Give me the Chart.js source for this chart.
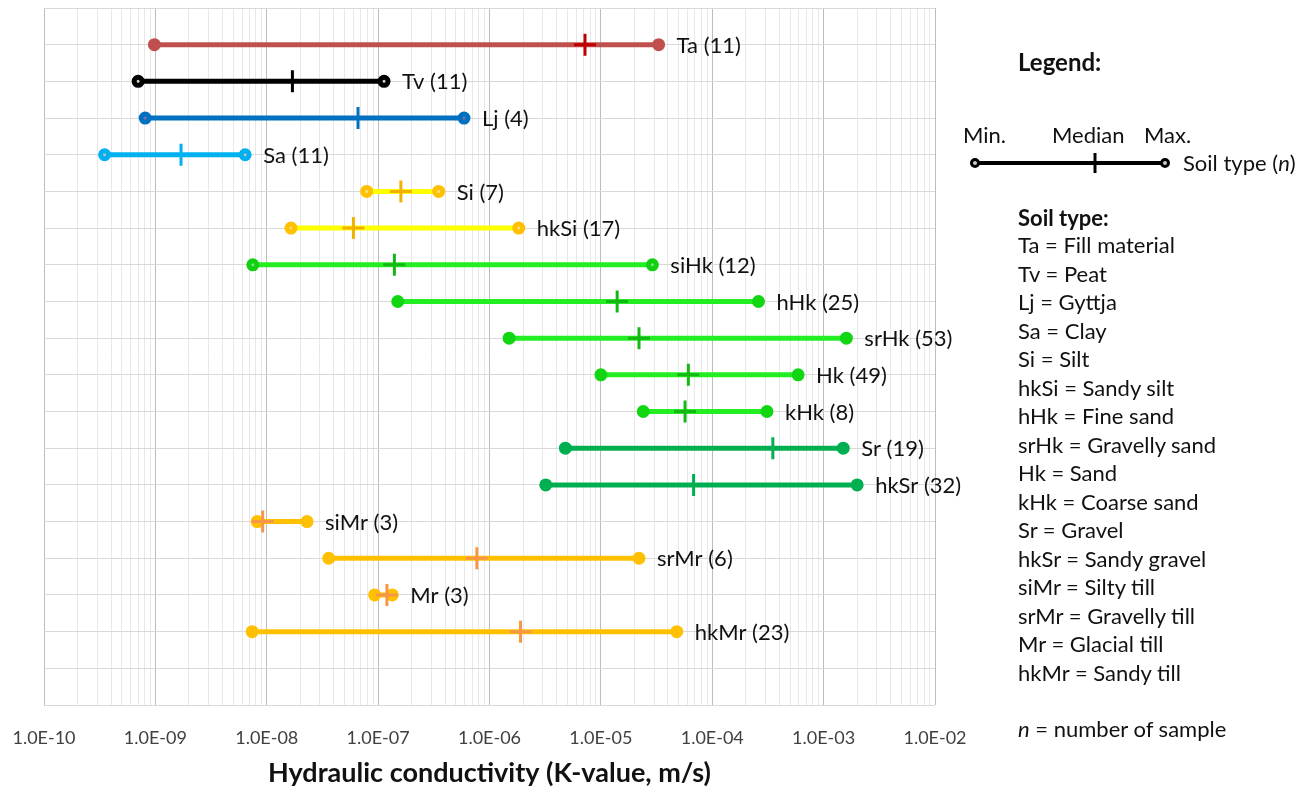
<!DOCTYPE html>
<html>
<head>
<meta charset="utf-8">
<script src="https://cdn.jsdelivr.net/npm/chart.js@4.4.0/dist/chart.umd.min.js"></script>
<style>
body { margin: 0; background: #fff; font-family: Lato, "Noto Sans", sans-serif; }
#wrap { position: relative; width: 1314px; height: 794px; }
.txt { position: absolute; transform: translateY(-50%); font-size: 22px; color: #111; white-space: nowrap; line-height: 1.2; }
.b { font-weight: bold; }
</style>
</head>
<body>
<div id="wrap">
  <canvas id="kChart" width="1314" height="794"></canvas>
  <div class="txt b" style="left:1018px; top:62px; font-size:24px;">Legend:</div>
  <div class="txt" style="left:963px; top:135px;">Min.</div>
  <div class="txt" style="left:1052px; top:135px;">Median</div>
  <div class="txt" style="left:1144px; top:135px;">Max.</div>
  <svg style="position:absolute; left:960px; top:145px;" width="220" height="36">
    <line x1="15" y1="18" x2="205" y2="18" stroke="#000" stroke-width="4"/>
    <line x1="135" y1="8" x2="135" y2="28" stroke="#000" stroke-width="3"/>
    <circle cx="15" cy="18" r="3.5" fill="#ccc" stroke="#000" stroke-width="3"/>
    <circle cx="205" cy="18" r="3.5" fill="#ccc" stroke="#000" stroke-width="3"/>
  </svg>
  <div class="txt" style="left:1183px; top:163px;">Soil type (<i>n</i>)</div>
  <div class="txt b" style="left:1018px; top:218px;">Soil type:</div>
  <div id="soilList"></div>
  <div class="txt" style="left:1018px; top:729px;"><i>n</i> = number of sample</div>
</div>
<script>
// soil types, sample counts and K-values (m/s)
const soilTypes = ['Ta', 'Tv', 'Lj', 'Sa', 'Si', 'hkSi', 'siHk', 'hHk', 'srHk', 'Hk', 'kHk', 'Sr', 'hkSr', 'siMr', 'srMr', 'Mr', 'hkMr'];
const sampleCounts = [11, 11, 4, 11, 7, 17, 12, 25, 53, 49, 8, 19, 32, 3, 6, 3, 23];
const minK = [9.8e-10, 7.0e-10, 8.1e-10, 3.5e-10, 7.9e-8, 1.65e-8, 7.5e-9, 1.5e-7, 1.5e-6, 1.0e-5, 2.4e-5, 4.8e-6, 3.2e-6, 8.2e-9, 3.6e-8, 9.3e-8, 7.4e-9];
const medianK = [7.2e-6, 1.7e-8, 6.6e-8, 1.7e-9, 1.6e-7, 6.0e-8, 1.4e-7, 1.4e-5, 2.2e-5, 6.1e-5, 5.7e-5, 3.5e-4, 6.8e-5, 9.2e-9, 7.7e-7, 1.2e-7, 1.9e-6];
const maxK = [3.3e-5, 1.13e-7, 5.9e-7, 6.4e-9, 3.5e-7, 1.83e-6, 2.9e-5, 2.6e-4, 1.6e-3, 5.9e-4, 3.1e-4, 1.5e-3, 2.0e-3, 2.3e-8, 2.2e-5, 1.34e-7, 4.8e-5];

const tickExponents = [-10, -9, -8, -7, -6, -5, -4, -3, -2];
const tickLabels = ['1.0E-10', '1.0E-09', '1.0E-08', '1.0E-07', '1.0E-06', '1.0E-05', '1.0E-04', '1.0E-03', '1.0E-02'];

const soilNames = ['Ta = Fill material', 'Tv = Peat', 'Lj = Gyttja', 'Sa = Clay', 'Si = Silt', 'hkSi = Sandy silt',
  'hHk = Fine sand', 'srHk = Gravelly sand', 'Hk = Sand', 'kHk = Coarse sand', 'Sr = Gravel', 'hkSr = Sandy gravel',
  'siMr = Silty till', 'srMr = Gravelly till', 'Mr = Glacial till', 'hkMr = Sandy till'];

// styles
const lineColors = ['#C0504D', '#000000', '#0070C0', '#00B0F0', '#FFFF00', '#FFFF00', '#22EE22', '#22EE22', '#22EE22', '#22EE22', '#22EE22', '#00B050', '#00B050', '#FFC000', '#FFC000', '#FFC000', '#FFC000'];
const endColors = ['#C0504D', '#000000', '#0070C0', '#00B0F0', '#FFC000', '#FFC000', '#11D011', '#11D611', '#11D611', '#11D611', '#11D611', '#00B050', '#00B050', '#FFC000', '#FFC000', '#FFC000', '#FFC000'];
const dotColors = ['#C0504D', '#d8d8c0', '#8070b0', '#c0c0c0', '#f5e08a', '#f5e08a', '#7fe07f', '#11D611', '#11D611', '#11D611', '#11D611', '#00B050', '#00B050', '#FFC000', '#FFC000', '#FFC000', '#FFC000'];
const medianColors = ['#C00000', '#000000', '#0070C0', '#00B0F0', '#F2B000', '#F2B000', '#14B814', '#14B814', '#14B814', '#14B814', '#14B814', '#00B050', '#00B050', '#F79646', '#F79646', '#F79646', '#F79646'];

const rows = soilTypes.map((s, i) => i + 1);

document.getElementById('soilList').innerHTML = soilNames.map((t, i) =>
  `<div class="txt" style="left:1018px; top:${245 + i * 28.5}px;">${t}</div>`).join('');

const rangeSets = soilTypes.map((s, i) => ({
  type: 'line',
  label: s,
  data: [{ x: minK[i], y: rows[i] }, { x: maxK[i], y: rows[i] }],
  borderColor: lineColors[i],
  borderWidth: 5,
  pointRadius: 4,
  pointBorderWidth: 5,
  pointBorderColor: endColors[i],
  pointBackgroundColor: dotColors[i],
  order: 1
}));

const medianSet = {
  type: 'scatter',
  label: 'Median',
  data: soilTypes.map((s, i) => ({ x: medianK[i], y: rows[i] })),
  pointStyle: 'cross',
  pointRadius: 11,
  pointBorderWidth: 3,
  pointBorderColor: medianColors,
  order: 0
};

const rowLabels = {
  id: 'rowLabels',
  afterDatasetsDraw(chart) {
    const { ctx, scales: { x, y } } = chart;
    ctx.save();
    ctx.font = '22px Lato';
    ctx.fillStyle = '#111';
    ctx.textBaseline = 'middle';
    soilTypes.forEach((s, i) => {
      ctx.fillText(s + ' (' + sampleCounts[i] + ')', x.getPixelForValue(maxK[i]) + 18, y.getPixelForValue(rows[i]) + 1);
    });
    ctx.restore();
  }
};

new Chart(document.getElementById('kChart').getContext('2d'), {
  data: { datasets: [medianSet].concat(rangeSets) },
  options: {
    responsive: false,
    animation: false,
    layout: { autoPadding: false, padding: { left: 44, top: 8, right: 379, bottom: 5 } },
    plugins: { legend: { display: false }, tooltip: { enabled: false } },
    scales: {
      x: {
        type: 'logarithmic',
        min: 1e-10,
        max: 1e-2,
        afterBuildTicks: axis => {
          const t = [];
          tickExponents.forEach((e, i) => {
            t.push({ value: Math.pow(10, e), major: true });
            if (i < tickExponents.length - 1) {
              for (let m = 2; m <= 9; m++) t.push({ value: m * Math.pow(10, e), major: false });
            }
          });
          axis.ticks = t;
        },
        ticks: {
          autoSkip: false,
          maxRotation: 0,
          padding: 0,
          color: '#404040',
          font: { family: 'Lato', size: 18 },
          callback: (value, index, ticks) => {
            if (!ticks[index].major) return '';
            return tickLabels[tickExponents.indexOf(Math.round(Math.log10(value)))];
          }
        },
        grid: {
          drawTicks: true,
          tickLength: 22,
          tickColor: 'rgba(0,0,0,0)',
          color: c => (c.tick && c.tick.major) ? '#BDBDBD' : '#E8E8E8',
          lineWidth: 1
        },
        border: { display: false },
        title: {
          display: true,
          text: 'Hydraulic conductivity (K-value, m/s)',
          color: '#111',
          font: { family: 'Lato', size: 27, weight: 'bold' },
          padding: { top: 8, bottom: 0 }
        }
      },
      y: {
        type: 'linear',
        min: 0,
        max: 19,
        reverse: true,
        ticks: { display: false, stepSize: 1, maxTicksLimit: 30, autoSkip: false, padding: 0 },
        grid: { drawTicks: false, tickLength: 0, color: '#D9D9D9' },
        border: { display: false }
      }
    }
  },
  plugins: [rowLabels]
});
</script>
</body>
</html>
